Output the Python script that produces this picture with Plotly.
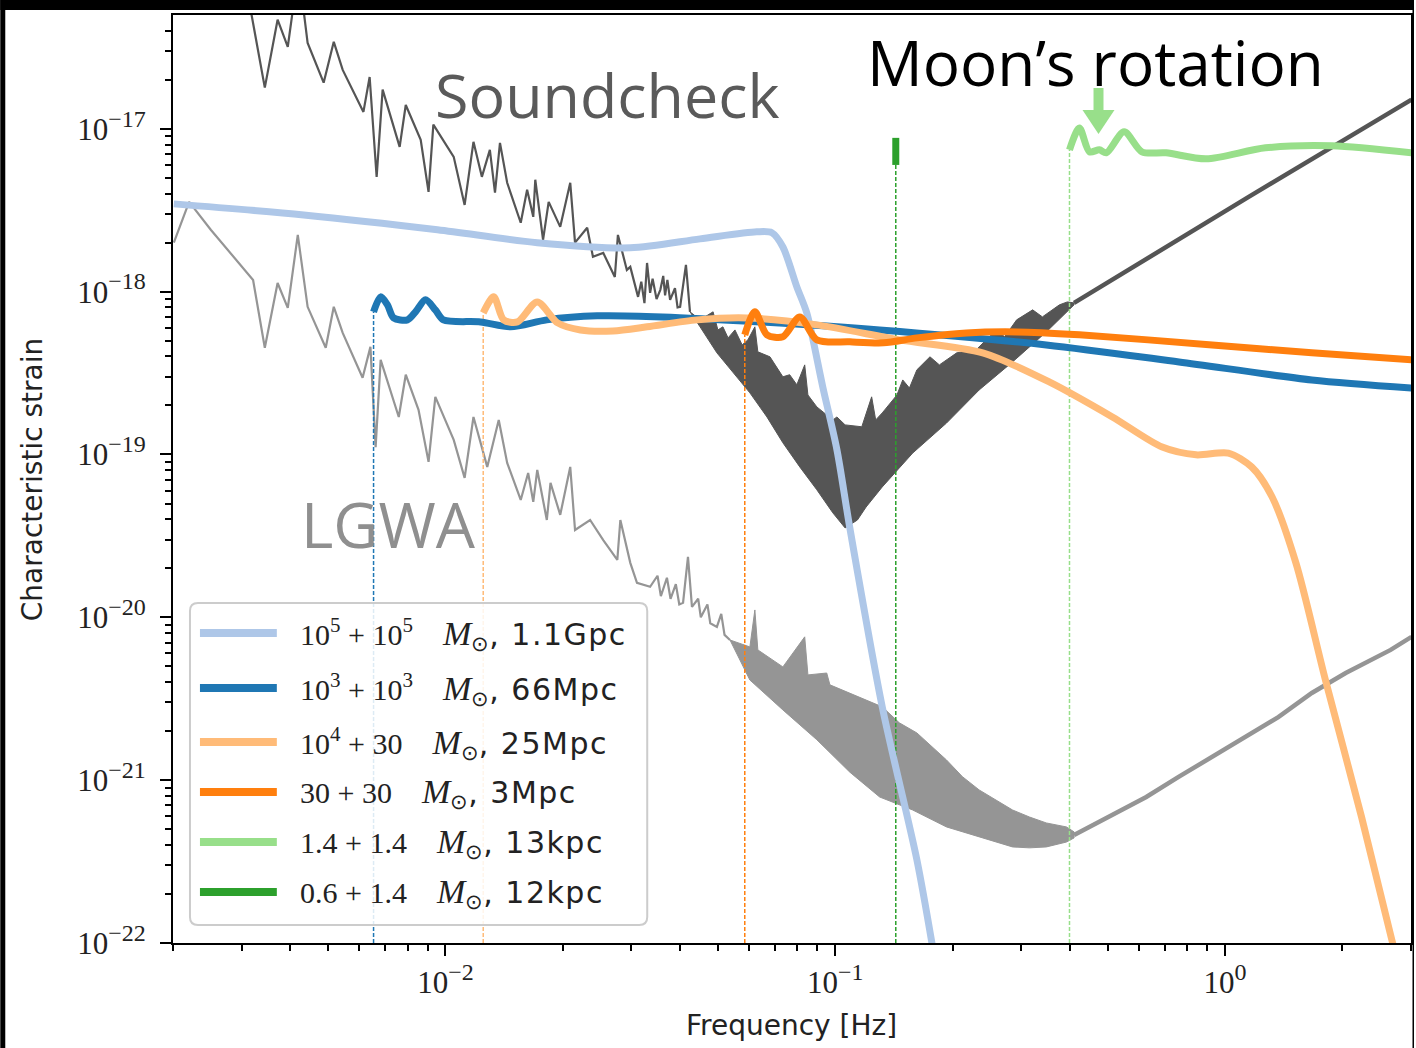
import numpy as np
import plotly.graph_objects as go

# ---------------- data ----------------
# Soundcheck noise curve: spiky low-frequency part
sc_f = [0.00313, 0.00344, 0.00371, 0.00394, 0.00406, 0.00418, 0.00433, 0.00443, 0.00487, 0.00517,
        0.00545, 0.00616, 0.00639, 0.00666, 0.00690, 0.00763, 0.00791, 0.00864, 0.00905, 0.00931,
        0.0105, 0.0112, 0.0118, 0.0124, 0.0130, 0.0134, 0.0138, 0.0144, 0.0156, 0.0162,
        0.0168, 0.0170, 0.0178, 0.0184, 0.0197, 0.0209, 0.0215, 0.0231, 0.0239, 0.0254,
        0.0272, 0.0277, 0.0292, 0.0298, 0.0312, 0.0318, 0.0324, 0.0329, 0.0335, 0.0340,
        0.0348, 0.0356, 0.0362, 0.0366, 0.0371, 0.0377, 0.0388, 0.0394, 0.0400, 0.0414, 0.0424]
sc_h = [6.2e-17, 1.79e-17, 4.68e-17, 3.19e-17, 5.38e-17, 6.65e-17, 5.24e-17, 3.37e-17, 1.92e-17, 3.42e-17,
        2.30e-17, 1.27e-17, 2.08e-17, 5.07e-18, 1.74e-17, 7.75e-18, 1.40e-17, 8.56e-18, 4.10e-18, 1.06e-17,
        6.73e-18, 3.41e-18, 8.32e-18, 5.07e-18, 7.43e-18, 4.05e-18, 8.20e-18, 4.66e-18, 2.65e-18, 4.22e-18,
        2.88e-18, 4.87e-18, 2.08e-18, 3.56e-18, 2.50e-18, 4.66e-18, 2.00e-18, 2.47e-18, 1.64e-18, 1.73e-18,
        1.23e-18, 2.23e-18, 1.36e-18, 1.42e-18, 9.29e-19, 1.15e-18, 8.5e-19, 1.50e-18, 9.84e-19, 1.20e-18,
        9.0e-19, 1.03e-18, 1.25e-18, 9.5e-19, 1.18e-18, 8.91e-19, 1.05e-18, 8.0e-19, 8.07e-19, 1.46e-18, 7.52e-19]
# Soundcheck dense resonance band: upper and lower envelopes
sc_up_f = [0.0424, 0.0450, 0.0486, 0.0500, 0.0515, 0.0531, 0.0553, 0.0577, 0.0597, 0.0622,
           0.0633, 0.0680, 0.0734, 0.0764, 0.0797, 0.0835, 0.0851, 0.0897, 0.0986, 0.101,
           0.106, 0.117, 0.124, 0.127, 0.132, 0.144, 0.149, 0.155, 0.162, 0.175,
           0.185, 0.205, 0.230, 0.259, 0.272, 0.292, 0.321, 0.340, 0.376, 0.394, 0.410]
sc_up_h = [7.52e-19, 6.71e-19, 7.52e-19, 5.82e-19, 6.08e-19, 5.20e-19, 5.82e-19, 4.71e-19, 5.06e-19, 6.08e-19,
           4.27e-19, 3.98e-19, 3.00e-19, 3.09e-19, 2.68e-19, 3.55e-19, 2.32e-19, 1.96e-19, 1.63e-19, 1.70e-19,
           1.52e-19, 1.48e-19, 2.26e-19, 1.63e-19, 1.80e-19, 2.32e-19, 2.87e-19, 2.56e-19, 3.31e-19, 3.98e-19,
           3.55e-19, 4.21e-19, 4.40e-19, 5.82e-19, 5.28e-19, 6.71e-19, 7.73e-19, 7.00e-19, 8.30e-19, 8.65e-19, 8.53e-19]
sc_lo_f = [0.0424, 0.0450, 0.0497, 0.0547, 0.0604, 0.0668, 0.0734, 0.0811, 0.0897, 0.0986, 0.106,
           0.114, 0.120, 0.132, 0.146, 0.158, 0.193, 0.234, 0.285, 0.348, 0.410]
sc_lo_h = [7.52e-19, 6.08e-19, 4.21e-19, 3.17e-19, 2.39e-19, 1.70e-19, 1.18e-19, 8.39e-20, 6.07e-20, 4.38e-20, 3.54e-20,
           3.96e-20, 4.76e-20, 6.32e-20, 8.28e-20, 1.02e-19, 1.56e-19, 2.49e-19, 3.70e-19, 5.66e-19, 8.30e-19]
# Soundcheck high-frequency tail
sc_tail_f = [0.410, 1.15, 3.01]
sc_tail_h = [8.53e-19, 3.82e-18, 1.51e-17]

# LGWA noise curve
lg_f = [0.00201, 0.00220, 0.00250, 0.00321, 0.00344, 0.00371, 0.00394, 0.00418, 0.00443, 0.00493,
        0.00517, 0.00545, 0.00613, 0.00642, 0.00662, 0.00682, 0.00759, 0.00791, 0.00853, 0.00905,
        0.00942, 0.0105, 0.0112, 0.0118, 0.0128, 0.0137, 0.0144, 0.0156, 0.0163, 0.0168,
        0.0172, 0.0182, 0.0186, 0.0197, 0.0209, 0.0215, 0.0235, 0.0254, 0.0276, 0.0281,
        0.0298, 0.0310, 0.0335, 0.0350, 0.0357, 0.0370, 0.0378, 0.0390, 0.0398, 0.0407,
        0.0419, 0.0429, 0.0445, 0.0452, 0.0470, 0.0478, 0.0497, 0.0510, 0.0520, 0.0537]
lg_h = [2.00e-18, 3.56e-18, 2.40e-18, 1.18e-18, 4.52e-19, 1.13e-18, 7.95e-19, 2.23e-18, 8.07e-19, 4.52e-19,
        8.07e-19, 5.58e-19, 2.96e-19, 4.58e-19, 1.11e-19, 3.81e-19, 1.70e-19, 3.09e-19, 1.88e-19, 9.02e-20,
        2.26e-19, 1.23e-19, 7.18e-20, 1.70e-19, 8.39e-20, 1.63e-19, 8.88e-20, 5.26e-20, 7.70e-20, 5.12e-20,
        8.03e-20, 3.96e-20, 6.70e-20, 4.26e-20, 8.39e-20, 3.44e-20, 3.96e-20, 2.98e-20, 2.25e-20, 3.96e-20,
        2.16e-20, 1.63e-20, 1.54e-20, 1.8e-20, 1.35e-20, 1.75e-20, 1.3e-20, 1.6e-20, 1.2e-20, 1.23e-20,
        2.35e-20, 1.16e-20, 1.3e-20, 1.0e-20, 1.2e-20, 9.2e-21, 8.73e-21, 1.05e-20, 7.8e-21, 7.26e-21]
lg_up_f = [0.0537, 0.0604, 0.0622, 0.0633, 0.0734, 0.0835, 0.0851, 0.0951, 0.0969, 0.109, 0.132,
           0.146, 0.162, 0.193, 0.212, 0.234, 0.285, 0.315, 0.348, 0.392, 0.410]
lg_up_h = [7.26e-21, 6.58e-21, 1.11e-20, 6.31e-21, 4.96e-21, 7.59e-21, 4.43e-21, 4.55e-21, 3.85e-21, 3.43e-21, 2.82e-21,
           2.25e-21, 1.95e-21, 1.33e-21, 1.05e-21, 8.71e-22, 6.56e-22, 5.94e-22, 5.46e-22, 5.16e-22, 4.81e-22]
lg_lo_f = [0.0537, 0.0604, 0.0734, 0.0897, 0.109, 0.130, 0.158, 0.193, 0.234, 0.285, 0.315, 0.348, 0.392, 0.410]
lg_lo_h = [7.26e-21, 4.12e-21, 2.70e-21, 1.77e-21, 1.12e-21, 7.88e-22, 6.56e-22, 5.16e-22, 4.48e-22, 3.89e-22,
           3.84e-22, 3.89e-22, 4.17e-22, 4.42e-22]
lg_tail_f = [0.410, 0.514, 0.628, 0.762, 0.927, 1.13, 1.37, 1.67, 2.04, 2.66, 3.01]
lg_tail_h = [4.61e-22, 6.11e-22, 7.88e-22, 1.05e-21, 1.39e-21, 1.84e-21, 2.44e-21, 3.43e-21, 4.55e-21, 6.31e-21, 7.59e-21]

# Signals
s1_f = [0.00201, 0.00433, 0.00954, 0.0172, 0.0298, 0.0450, 0.0629, 0.0688, 0.0734, 0.0797, 0.0845,
        0.0929, 0.101, 0.109, 0.132, 0.162, 0.180]
s1_h = [3.46e-18, 2.96e-18, 2.40e-18, 2.00e-18, 1.86e-18, 2.11e-18, 2.33e-18, 2.30e-18, 1.88e-18, 1.07e-18, 7.41e-19,
        2.60e-19, 1.07e-19, 3.54e-20, 2.82e-21, 3.24e-22, 7.9e-23]
s2_f = [0.00654, 0.00682, 0.00710, 0.00736, 0.00799, 0.00838, 0.00889, 0.00942, 0.00988, 0.0123,
        0.0147, 0.0182, 0.0245, 0.0361, 0.0641, 0.130, 0.348, 0.762, 1.67, 3.01]
s2_h = [7.52e-19, 9.29e-19, 8.30e-19, 6.90e-19, 6.71e-19, 7.52e-19, 8.91e-19, 7.73e-19, 6.71e-19, 6.52e-19,
        6.08e-19, 6.71e-19, 7.10e-19, 7.00e-19, 6.52e-19, 5.82e-19, 4.71e-19, 3.70e-19, 2.87e-19, 2.56e-19]
s3_f = [0.0125, 0.0133, 0.0141, 0.0153, 0.0172, 0.0194, 0.0222, 0.0269, 0.0329, 0.0442, 0.0593, 0.0897, 0.146,
        0.239, 0.354, 0.514, 0.690, 0.843, 1.02, 1.17, 1.32, 1.52, 1.81, 2.24, 2.68, 2.79]
s3_h = [7.41e-19, 9.29e-19, 6.71e-19, 6.52e-19, 8.65e-19, 6.43e-19, 5.82e-19, 5.74e-19, 6.08e-19, 6.71e-19, 6.90e-19,
        6.25e-19, 5.06e-19, 4.21e-19, 2.79e-19, 1.70e-19, 1.11e-19, 9.95e-20, 1.02e-19, 8.39e-20, 5.50e-20, 2.16e-20,
        4.12e-21, 5.94e-22, 1.04e-22, 7.3e-23]
s4_f = [0.0586, 0.0622, 0.0668, 0.0734, 0.0811, 0.0897, 0.109, 0.133, 0.162, 0.217, 0.292, 0.423, 0.927, 1.67, 3.01]
s4_h = [5.43e-19, 7.52e-19, 5.43e-19, 5.28e-19, 7.00e-19, 5.06e-19, 4.92e-19, 4.85e-19, 5.20e-19, 5.58e-19,
        5.66e-19, 5.43e-19, 4.71e-19, 4.21e-19, 3.81e-19]
s5_f = [0.399, 0.423, 0.449, 0.476, 0.496, 0.551, 0.612, 0.706, 0.894, 1.27, 1.88, 3.01]
s5_h = [7.43e-18, 1.01e-17, 7.22e-18, 7.43e-18, 7.12e-18, 9.59e-18, 7.22e-18, 7.12e-18, 6.54e-18, 7.64e-18,
        7.87e-18, 7.12e-18]
s6_f = [0.143, 0.143]
s6_h = [8.8e-18, 6.0e-18]

masses = ["10<sup>5</sup> + 10<sup>5</sup>", "10<sup>3</sup> + 10<sup>3</sup>", "10<sup>4</sup> + 30",
          "30 + 30", "1.4 + 1.4", "0.6 + 1.4"]
distances = ["1.1Gpc", "66Mpc", "25Mpc", "3Mpc", "13kpc", "12kpc"]
colors = ["#aec7e8", "#1f77b4", "#ffbb78", "#ff7f0e", "#98df8a", "#2ca02c"]

x_ticks = [0.01, 0.1, 1]
x_exps = ["−2", "−1", "0"]
y_ticks = [1e-22, 1e-21, 1e-20, 1e-19, 1e-18, 1e-17]
y_exps = ["−22", "−21", "−20", "−19", "−18", "−17"]

# ---------------- figure ----------------
SC_COL = "#555555"
LG_COL = "#959595"
fig = go.Figure()


def band(up_f, up_h, lo_f, lo_h, col):
    fig.add_trace(go.Scatter(x=list(up_f) + list(lo_f)[::-1], y=list(up_h) + list(lo_h)[::-1],
                             mode="lines", fill="toself", fillcolor=col,
                             line=dict(color=col, width=1), hoverinfo="skip", showlegend=False))


# noise curves
fig.add_trace(go.Scatter(x=lg_f, y=lg_h, mode="lines", line=dict(color=LG_COL, width=2.2), showlegend=False))
band(lg_up_f, lg_up_h, lg_lo_f, lg_lo_h, LG_COL)
fig.add_trace(go.Scatter(x=lg_tail_f, y=lg_tail_h, mode="lines", line=dict(color=LG_COL, width=4.5), showlegend=False))

fig.add_trace(go.Scatter(x=sc_f, y=sc_h, mode="lines", line=dict(color=SC_COL, width=2.2), showlegend=False))
band(sc_up_f, sc_up_h, sc_lo_f, sc_lo_h, SC_COL)
fig.add_trace(go.Scatter(x=sc_tail_f, y=sc_tail_h, mode="lines", line=dict(color=SC_COL, width=4.5), showlegend=False))

signals = [(s1_f, s1_h), (s2_f, s2_h), (s3_f, s3_h), (s4_f, s4_h), (s5_f, s5_h), (s6_f, s6_h)]
y_bottom = y_ticks[0]

# vertical dashed markers at the start of each signal (except the first)
for i, (f, h) in enumerate(signals):
    if i == 0:
        continue
    top = min(h) if i == 5 else h[0]
    fig.add_trace(go.Scatter(x=[f[0], f[0]], y=[y_bottom, top], mode="lines",
                             line=dict(color=colors[i], width=1.5, dash="4px,2px"),
                             showlegend=False, hoverinfo="skip"))

for i, (f, h) in enumerate(signals):
    fig.add_trace(go.Scatter(x=f, y=h, mode="lines", name=f"{masses[i]} M⊙, {distances[i]}",
                             line=dict(color=colors[i], width=7, shape="spline", smoothing=0.8),
                             showlegend=False))

# ---------------- layout ----------------
L, R, T, B = 173, 3, 15, 105
W, H = 1416, 1048
PW, PH = W - L - R, H - T - B


def px(x):
    return (x - L) / PW


def py(y):
    return (H - B - y) / PH


def sup_label(e):
    return f"10<sup><span style='font-size:24px'>{e}</span></sup>"


x_minor = [m * 10.0 ** k for k in (-3, -2, -1, 0) for m in range(2, 10) if 0.002 <= m * 10.0 ** k <= 3]
y_minor = [m * 10.0 ** k for k in range(-22, -16) for m in range(2, 10) if m * 10.0 ** k <= 5e-17]

tickfont = dict(family="Liberation Serif, DejaVu Serif, serif", size=31, color="#222222")
fig.update_layout(
    width=W, height=H, margin=dict(l=L, r=R, t=T, b=B),
    paper_bgcolor="white", plot_bgcolor="white",
    showlegend=False,
    xaxis=dict(type="log", range=[np.log10(0.002), np.log10(3)], showgrid=False, zeroline=False,
               showline=True, mirror=True, linecolor="black", linewidth=2,
               ticks="outside", ticklen=11, tickwidth=2, tickcolor="black",
               tickmode="array", tickvals=x_ticks, ticktext=[sup_label(e) for e in x_exps], tickfont=tickfont,
               minor=dict(tickmode="array", tickvals=x_minor, ticks="outside", ticklen=6,
                          tickwidth=1.5, tickcolor="black", showgrid=False)),
    yaxis=dict(type="log", range=[-22, np.log10(5e-17)], showgrid=False, zeroline=False,
               showline=True, mirror=True, linecolor="black", linewidth=2,
               ticks="outside", ticklen=11, tickwidth=2, tickcolor="black",
               tickmode="array", tickvals=y_ticks, ticktext=[sup_label(e) for e in y_exps], tickfont=tickfont,
               ticklabelstandoff=8,
               minor=dict(tickmode="array", tickvals=y_minor, ticks="outside", ticklen=6,
                          tickwidth=1.5, tickcolor="black", showgrid=False)),
)

shapes = []
# black screenshot border strips
shapes.append(dict(type="rect", xref="paper", yref="paper", x0=px(0), x1=px(W), y0=py(10), y1=py(0),
                   fillcolor="black", line=dict(width=0), layer="below"))
shapes.append(dict(type="rect", xref="paper", yref="paper", x0=px(0), x1=px(5), y0=py(H), y1=py(0),
                   fillcolor="black", line=dict(width=0), layer="below"))
shapes.append(dict(type="rect", xref="paper", yref="paper", x0=px(1414.5), x1=px(W), y0=py(H), y1=py(0),
                   fillcolor="black", line=dict(width=0), layer="below"))

# legend frame (rounded)
lx0, lx1, ly0, ly1, r = 190, 648, 603, 925, 8
path = (f"M {px(lx0 + r)},{py(ly0)} L {px(lx1 - r)},{py(ly0)} Q {px(lx1)},{py(ly0)} {px(lx1)},{py(ly0 + r)} "
        f"L {px(lx1)},{py(ly1 - r)} Q {px(lx1)},{py(ly1)} {px(lx1 - r)},{py(ly1)} "
        f"L {px(lx0 + r)},{py(ly1)} Q {px(lx0)},{py(ly1)} {px(lx0)},{py(ly1 - r)} "
        f"L {px(lx0)},{py(ly0 + r)} Q {px(lx0)},{py(ly0)} {px(lx0 + r)},{py(ly0)} Z")
shapes.append(dict(type="path", xref="paper", yref="paper", path=path,
                   fillcolor="rgba(255,255,255,0.85)", line=dict(color="#cccccc", width=2), layer="above"))
row_y = [633, 688, 742, 792, 842, 892]
annotations = []
NB = "\u00a0"
for i, yy in enumerate(row_y):
    shapes.append(dict(type="line", xref="paper", yref="paper", x0=px(200), x1=px(277), y0=py(yy), y1=py(yy),
                       line=dict(color=colors[i], width=8), layer="above"))
    annotations.append(dict(
        xref="paper", yref="paper", x=px(298), y=py(yy + 1), xanchor="left", yanchor="middle", showarrow=False,
        text=(f"<span style='font-family:Liberation Serif;font-size:30px'>{masses[i]}{NB * 4}"
              f"<i><span style='font-size:34px'>M</span></i><sub>⊙</sub></span>"
              f"<span style='letter-spacing:1.5px'>, {distances[i]}</span>"),
        font=dict(family="DejaVu Sans", size=30, color="#222222")))

# green arrow for "Moon's rotation"
shapes.append(dict(type="rect", xref="paper", yref="paper", x0=px(1095), x1=px(1105), y0=py(112), y1=py(88),
                   fillcolor="#98df8a", line=dict(width=0), layer="above"))
shapes.append(dict(type="path", xref="paper", yref="paper",
                   path=f"M {px(1084)},{py(110)} L {px(1116)},{py(110)} L {px(1100)},{py(134)} Z",
                   fillcolor="#98df8a", line=dict(width=0), layer="above"))

annotations += [
    dict(xref="paper", yref="paper", x=px(608), y=py(94), text="Soundcheck", showarrow=False,
         font=dict(family="Open Sans", size=61, color="#5a5a5a"), xanchor="center", yanchor="middle"),
    dict(xref="paper", yref="paper", x=px(389), y=py(524), text="LGWA", showarrow=False,
         font=dict(family="Open Sans", size=62, color="#8f8f8f"), xanchor="center", yanchor="middle"),
    dict(xref="paper", yref="paper", x=px(1097), y=py(62), text="Moon’s rotation", showarrow=False,
         font=dict(family="Open Sans", size=62, color="black"), xanchor="center", yanchor="middle"),
    dict(xref="paper", yref="paper", x=px(792), y=py(1025), text="Frequency [Hz]", showarrow=False,
         font=dict(family="DejaVu Sans", size=28, color="#222222"), xanchor="center", yanchor="middle"),
    dict(xref="paper", yref="paper", x=px(32), y=py(480), text="Characteristic strain", showarrow=False,
         textangle=-90, font=dict(family="DejaVu Sans", size=28, color="#222222"),
         xanchor="center", yanchor="middle"),
]
fig.update_layout(shapes=shapes, annotations=annotations)

fig.write_html("out.html", config={"displayModeBar": False},
               post_script="document.body.style.margin='0px';document.body.style.overflow='hidden';")
